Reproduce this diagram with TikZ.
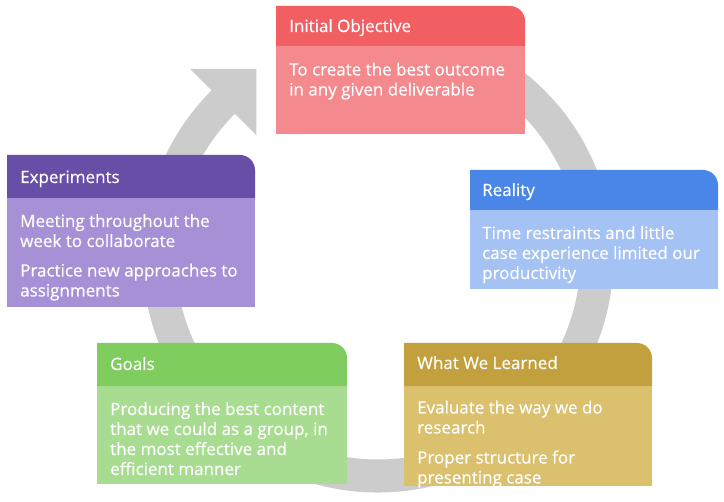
\documentclass[tikz,border=0pt]{standalone}
\usepackage{fontspec}
\setmainfont{Open Sans}[FakeBold=0.4]

\definecolor{ringgray}{HTML}{CCCCCC}
\definecolor{redhead}{HTML}{F25F63}
\definecolor{redbody}{HTML}{F48A8D}
\definecolor{bluehead}{HTML}{4A86E8}
\definecolor{bluebody}{HTML}{A4C2F4}
\definecolor{goldhead}{HTML}{C1A03D}
\definecolor{goldbody}{HTML}{DBC06E}
\definecolor{greenhead}{HTML}{7ECD5E}
\definecolor{greenbody}{HTML}{A8DD91}
\definecolor{purplehead}{HTML}{674EA7}
\definecolor{purplebody}{HTML}{A691D6}

% card: #1 left, #2 top, #3 right, #4 header bottom, #5 bottom, #6 header colour, #7 body colour
\newcommand\cardshape[7]{%
  \fill[#7] (#1,#4) rectangle (#3,#5);
  \fill[#6] (#1,#4) -- (#1,#2) -- ({#3-15},#2)
    arc[start angle=-90, end angle=0, radius=15] -- (#3,#4) -- cycle;
}

\begin{document}
\begin{tikzpicture}[x=1pt, y=-1pt,
  cardtitle/.style={anchor=base west, inner sep=0pt, text=white,
    font=\fontsize{17}{20}\selectfont},
  % multi-line nodes are anchored at the baseline of their last line
  cardtext/.style={anchor=base west, inner sep=0pt, text=white, align=left,
    font=\fontsize{17}{20}\selectfont},
]
\useasboundingbox (0,0) rectangle (724,502);

% circular arrow behind the cards
\begin{scope}[shift={(378,257)}]
  \fill[ringgray] (-100:235.5)
    arc[start angle=-100, end angle=225, radius=235.5]
    -- (225:266) -- (237.1:224) -- (225:172) -- (225:202.5)
    arc[start angle=225, end angle=-100, radius=202.5] -- cycle;
\end{scope}

% cards
\cardshape{276}{6}{525}{46}{134}{redhead}{redbody}
\cardshape{470}{170}{718}{210}{289}{bluehead}{bluebody}
\cardshape{404}{343}{652}{386}{486}{goldhead}{goldbody}
\cardshape{97}{343}{347}{386}{484}{greenhead}{greenbody}
\cardshape{7}{155}{255}{198}{307}{purplehead}{purplebody}

% initial objective
\node[cardtitle] (t1) at (289,32) {Initial Objective};
\node[cardtext] (b1) at (289,95.5) {To create the best outcome\\in any given deliverable};

% reality
\node[cardtitle] (t2) at (482,196) {Reality};
\node[cardtext] (b2) at (482,279) {Time restraints and little\\case experience limited our\\productivity};

% what we learned
\node[cardtitle] (t3) at (417,369) {What We Learned};
\node[cardtext] (b3a) at (417,433.5) {Evaluate the way we do\\research};
\node[cardtext] (b3b) at (417,483.5) {Proper structure for\\presenting case};

% goals
\node[cardtitle] (t4) at (110,370) {Goals};
\node[cardtext] (b4) at (110,475) {Producing the best content\\that we could as a group, in\\the most effective and\\efficient manner};

% experiments
\node[cardtitle] (t5) at (20,183) {Experiments};
\node[cardtext] (b5a) at (20,247) {Meeting throughout the\\week to collaborate};
\node[cardtext] (b5b) at (20,296.5) {Practice new approaches to\\assignments};
\end{tikzpicture}
\end{document}
